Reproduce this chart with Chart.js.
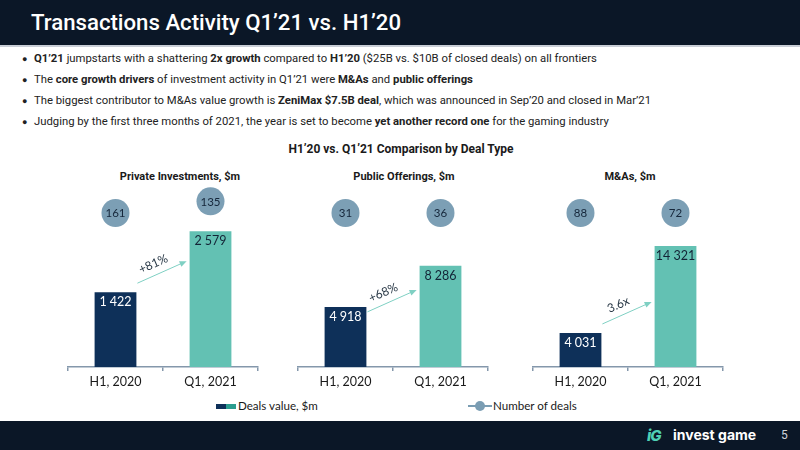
<!DOCTYPE html>
<html>
<head>
<meta charset="utf-8">
<script src="https://cdn.jsdelivr.net/npm/chart.js@4.4.1/dist/chart.umd.min.js"></script>
<style>
  html, body { margin: 0; padding: 0; }
  body { width: 800px; height: 450px; position: relative; overflow: hidden; background: #fff; font-family: Roboto, sans-serif; }
  .header { position: absolute; left: 0; top: 0; width: 800px; height: 45px; background: #0b1727; border-bottom: 2px solid #c9ced6; }
  .header h1 { position: absolute; left: 31px; top: 9px; margin: 0; font: 500 22.2px Roboto, sans-serif; color: #fff; white-space: nowrap; }
  .bullet { position: absolute; left: 22px; font-size: 11.3px; color: #222; white-space: nowrap; line-height: 14px; }
  .bullet span.dot { display: inline-block; width: 12px; font-size: 9px; }
  .t { position: absolute; font-weight: 700; color: #1a1a1a; white-space: nowrap; transform: translateX(-50%); line-height: 14px; }
  canvas { position: absolute; }
  .legend { position: absolute; font: 11.6px Lato, sans-serif; color: #1a1a1a; white-space: nowrap; line-height: 14px; }
  .footer { position: absolute; left: 0; top: 421px; width: 800px; height: 29px; background: #0b1727; }
</style>
</head>
<body>
<div class="header"><h1>Transactions Activity Q1’21 vs. H1’20</h1></div>

<div class="bullet" style="top:52px"><span class="dot">●</span><b>Q1’21</b> jumpstarts with a shattering <b>2x growth</b> compared to <b>H1’20</b> ($25B vs. $10B of closed deals) on all frontiers</div>
<div class="bullet" style="top:73px"><span class="dot">●</span>The <b>core growth drivers</b> of investment activity in Q1’21 were <b>M&amp;As</b> and <b>public offerings</b></div>
<div class="bullet" style="top:94px"><span class="dot">●</span>The biggest contributor to M&amp;As value growth is <b>ZeniMax $7.5B deal</b>, which was announced in Sep’20 and closed in Mar’21</div>
<div class="bullet" style="top:115px"><span class="dot">●</span>Judging by the first three months of 2021, the year is set to become <b>yet another record one</b> for the gaming industry</div>

<div class="t" style="left:401px; top:142px; font-size:12px">H1’20 vs. Q1’21 Comparison by Deal Type</div>
<div class="t" style="left:180px; top:170px; font-size:11px">Private Investments, $m</div>
<div class="t" style="left:404px; top:170px; font-size:11px">Public Offerings, $m</div>
<div class="t" style="left:630px; top:170px; font-size:11px">M&amp;As, $m</div>

<canvas id="privateChart" width="192" height="207" style="left:67px; top:185px"></canvas>
<canvas id="publicChart" width="192" height="207" style="left:297px; top:185px"></canvas>
<canvas id="maChart" width="192" height="207" style="left:532px; top:185px"></canvas>

<div style="position:absolute; left:216px; top:404px; width:10px; height:5px; background:#0e3059"></div>
<div style="position:absolute; left:226px; top:404px; width:10px; height:5px; background:#2a9d8f"></div>
<div class="legend" style="left:238px; top:399px">Deals value, $m</div>
<div style="position:absolute; left:468px; top:405px; width:24px; height:2px; background:#7a9db3"></div>
<div style="position:absolute; left:475px; top:401px; width:10px; height:10px; border-radius:50%; background:#7a9db3"></div>
<div class="legend" style="left:493px; top:399px">Number of deals</div>

<div class="footer">
  <div style="position:absolute; left:647px; top:5px; font:italic 800 15px Inter, sans-serif; color:#4fd1b5; letter-spacing:-1px">iG</div>
  <div style="position:absolute; left:673px; top:5px; font:700 14px Inter, sans-serif; color:#fff">invest game</div>
  <div style="position:absolute; left:781px; top:7px; font:12px Roboto, sans-serif; color:#d0d4da">5</div>
</div>

<script>
const periods = ['H1, 2020', 'Q1, 2021'];

const privateValues = [1422, 2579];
const publicValues = [4918, 8286];
const maValues = [4031, 14321];

const privateDeals = [161, 135];
const publicDeals = [31, 36];
const maDeals = [88, 72];

const growthLabels = ['+81%', '+68%', '3.6x'];

const navy = '#0e3059';
const teal = '#63c1b3';
const circleColor = '#7c9fb5';
const axisColor = '#8497ab';
const arrowColor = '#7fd0c3';
const labelFont = 'Lato, sans-serif';

function fmt(v) {
    return String(v).replace(/\B(?=(\d{3})+(?!\d))/g, ' ');
}

// bar labels, deal circles and growth arrow
const extras = {
    id: 'extras',
    afterDatasetsDraw(chart, args, opts) {
        const ctx = chart.ctx;
        const bars = chart.getDatasetMeta(0).data;
        const top = chart.chartArea.top;
        ctx.save();
        ctx.textAlign = 'center';
        ctx.textBaseline = 'middle';

        bars.forEach((bar, i) => {
            ctx.font = '12.5px ' + labelFont;
            ctx.fillStyle = i === 0 ? '#ffffff' : '#132436';
            ctx.fillText(fmt(chart.data.datasets[0].data[i]), bar.x, bar.y + 10);

            const cy = Math.min(top + 23, bar.y - 30);
            ctx.beginPath();
            ctx.arc(bar.x, cy, 14, 0, Math.PI * 2);
            ctx.fillStyle = circleColor;
            ctx.fill();
            ctx.font = '11.5px ' + labelFont;
            ctx.fillStyle = '#15263a';
            ctx.fillText(opts.deals[i], bar.x, cy + 0.5);
        });

        const b0 = bars[0], b1 = bars[1];
        const x0 = b0.x + b0.width / 2 + 1;
        const y0 = b0.y + opts.arrowOffset;
        const x1 = b1.x - b1.width / 2 - 3;
        const y1 = y0 - 22;
        const ang = Math.atan2(y1 - y0, x1 - x0);
        ctx.strokeStyle = arrowColor;
        ctx.fillStyle = arrowColor;
        ctx.lineWidth = 1;
        ctx.beginPath();
        ctx.moveTo(x0, y0);
        ctx.lineTo(x1 - 5 * Math.cos(ang), y1 - 5 * Math.sin(ang));
        ctx.stroke();
        ctx.beginPath();
        ctx.moveTo(x1, y1);
        ctx.lineTo(x1 - 7 * Math.cos(ang) + 3 * Math.sin(ang), y1 - 7 * Math.sin(ang) - 3 * Math.cos(ang));
        ctx.lineTo(x1 - 7 * Math.cos(ang) - 3 * Math.sin(ang), y1 - 7 * Math.sin(ang) + 3 * Math.cos(ang));
        ctx.closePath();
        ctx.fill();

        const mx = (x0 + x1) / 2 - 5, my = (y0 + y1) / 2;
        ctx.translate(mx + 9 * Math.sin(ang), my - 9 * Math.cos(ang));
        ctx.rotate(ang);
        ctx.font = '12px ' + labelFont;
        ctx.fillStyle = '#2b3a48';
        ctx.fillText(opts.growth, 0, 0);
        ctx.restore();
    }
};

function makePanel(id, values, deals, yMax, arrowOffset, growth) {
    return new Chart(document.getElementById(id), {
        type: 'bar',
        data: {
            labels: periods,
            datasets: [{
                data: values,
                backgroundColor: [navy, teal],
                barPercentage: 0.44,
                categoryPercentage: 1
            }]
        },
        options: {
            responsive: false,
            animation: false,
            layout: { padding: { top: 5, left: 1, right: 1, bottom: 0 } },
            plugins: {
                legend: { display: false },
                tooltip: { enabled: false },
                extras: { deals: deals, arrowOffset: arrowOffset, growth: growth }
            },
            scales: {
                x: {
                    grid: { offset: true, drawOnChartArea: false, tickLength: 4, color: axisColor, lineWidth: 1.5 },
                    border: { color: axisColor, width: 1.5 },
                    ticks: { padding: 3, color: '#1a1a1a', font: { family: labelFont, size: 12.5 } }
                },
                y: { display: false, min: 0, max: yMax }
            }
        },
        plugins: [extras]
    });
}

makePanel('privateChart', privateValues, privateDeals, 3364, -9, growthLabels[0]);
makePanel('publicChart', publicValues, publicDeals, 14480, 5, growthLabels[1]);
makePanel('maChart', maValues, maDeals, 20950, -9, growthLabels[2]);
</script>
</body>
</html>
